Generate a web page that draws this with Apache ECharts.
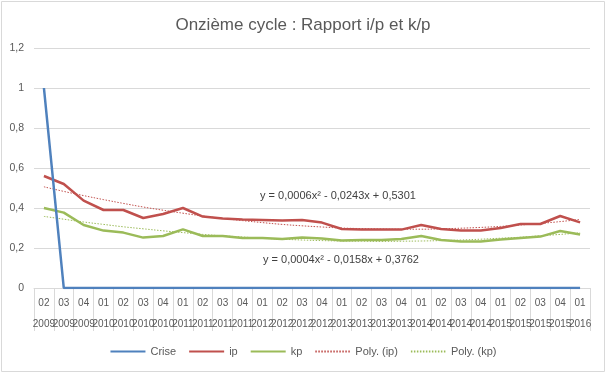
<!DOCTYPE html>
<html>
<head>
<meta charset="utf-8">
<script src="https://cdn.jsdelivr.net/npm/echarts@6/dist/echarts.min.js"></script>
<style>
html,body{margin:0;padding:0;background:#fff;}
#c{width:606px;height:373px;}
</style>
</head>
<body>
<div id="c"></div>
<script>
const quarters = ['02','03','04','01','02','03','04','01','02','03','04','01','02','03','04','01','02','03','04','01','02','03','04','01','02','03','04','01'];
const years = ['2009','2009','2009','2010','2010','2010','2010','2011','2011','2011','2011','2012','2012','2012','2012','2013','2013','2013','2013','2014','2014','2014','2014','2015','2015','2015','2015','2016'];
const crise = [1,0,0,0,0,0,0,0,0,0,0,0,0,0,0,0,0,0,0,0,0,0,0,0,0,0,0,0];
const ip = [0.56,0.52,0.437,0.39,0.39,0.35,0.37,0.40,0.357,0.347,0.342,0.34,0.337,0.34,0.327,0.295,0.292,0.292,0.292,0.315,0.295,0.287,0.288,0.30,0.32,0.32,0.36,0.328];
const kp = [0.40,0.377,0.315,0.287,0.277,0.252,0.26,0.293,0.26,0.26,0.25,0.25,0.245,0.253,0.247,0.238,0.24,0.24,0.245,0.26,0.24,0.233,0.233,0.243,0.25,0.257,0.285,0.268];
const ipTrend = [0.506,0.483,0.462,0.442,0.423,0.405,0.389,0.374,0.360,0.348,0.337,0.327,0.318,0.311,0.305,0.300,0.297,0.295,0.294,0.294,0.296,0.299,0.303,0.308,0.315,0.323,0.332,0.343];
const kpTrend = [0.358,0.344,0.330,0.318,0.306,0.296,0.286,0.277,0.268,0.261,0.255,0.249,0.244,0.240,0.237,0.235,0.234,0.233,0.234,0.235,0.237,0.240,0.244,0.249,0.254,0.261,0.268,0.276];
const yTicks = {min: 0, max: 1.2, interval: 0.2};
const eqIp = 'y = 0,0006x² - 0,0243x + 0,5301';
const eqKp = 'y = 0,0004x² - 0,0158x + 0,3762';

const categories = quarters.map((q, i) => q + '|' + years[i]);
const FONT = 'Liberation Sans';
const TXT = '#595959';

const chart = echarts.init(document.getElementById('c'), null, {renderer: 'canvas'});
const lineSeries = (name, data, color, width, type, z, smooth) => ({
  name, type: 'line', data, symbol: 'none', smooth: !!smooth, z,
  lineStyle: {color, width, type: type || 'solid'},
  itemStyle: {color},
  emphasis: {disabled: true},
  animation: false
});
chart.setOption({
  animation: false,
  title: {
    text: 'Onzième cycle : Rapport i/p et k/p',
    left: 'center', top: 12,
    textStyle: {fontFamily: FONT, fontSize: 17, fontWeight: 'normal', color: TXT}
  },
  grid: {left: 34, right: 16, top: 48, bottom: 85},
  legend: {
    bottom: 11, left: 'center', itemWidth: 35, itemHeight: 12, itemGap: 12,
    itemStyle: {opacity: 0},
    textStyle: {fontFamily: FONT, fontSize: 11, color: TXT},
    data: ['Crise', 'ip', 'kp', 'Poly. (ip)', 'Poly. (kp)']
  },
  xAxis: {
    type: 'category', data: categories, boundaryGap: true,
    axisLine: {show: true, lineStyle: {color: '#d9d9d9', width: 1}},
    axisTick: {show: true, length: 43, interval: 0, lineStyle: {color: '#d9d9d9'}},
    axisLabel: {
      interval: 0, hideOverlap: false, margin: 5,
      formatter: v => { const p = v.split('|'); return '{q|' + p[0] + '}\n{y|' + p[1] + '}'; },
      rich: {
        q: {fontFamily: FONT, fontSize: 10, color: TXT, lineHeight: 21},
        y: {fontFamily: FONT, fontSize: 10, color: TXT, lineHeight: 21}
      }
    },
    splitLine: {show: false}
  },
  yAxis: {
    type: 'value', min: yTicks.min, max: yTicks.max, interval: yTicks.interval,
    axisLine: {show: false}, axisTick: {show: false},
    axisLabel: {
      margin: 10, fontFamily: FONT, fontSize: 10.5, color: TXT,
      formatter: v => String(Math.round(v * 10) / 10).replace('.', ',')
    },
    splitLine: {lineStyle: {color: '#d9d9d9', width: 1}}
  },
  graphic: [
    {type: 'rect', silent: true, z: 100, shape: {x: 1.5, y: 1.5, width: 603, height: 370},
     style: {fill: 'none', stroke: '#d9d9d9', lineWidth: 1}},
    {type: 'text', silent: true, z: 100, x: 338, y: 196,
     style: {text: eqIp, fontFamily: FONT, fontSize: 11, fill: '#404040', align: 'center', verticalAlign: 'middle'}},
    {type: 'text', silent: true, z: 100, x: 341, y: 260,
     style: {text: eqKp, fontFamily: FONT, fontSize: 11, fill: '#404040', align: 'center', verticalAlign: 'middle'}}
  ],
  series: [
    lineSeries('Crise', crise, '#4F81BD', 2.5, 'solid', 4),
    lineSeries('ip', ip, '#C0504D', 2.5, 'solid', 2),
    lineSeries('kp', kp, '#9BBB59', 2.5, 'solid', 2),
    lineSeries('Poly. (ip)', ipTrend, '#C0504D', 1, [1.5, 1.5], 3, true),
    lineSeries('Poly. (kp)', kpTrend, '#9BBB59', 1, [1.5, 1.5], 3, true)
  ]
});
</script>
</body>
</html>
